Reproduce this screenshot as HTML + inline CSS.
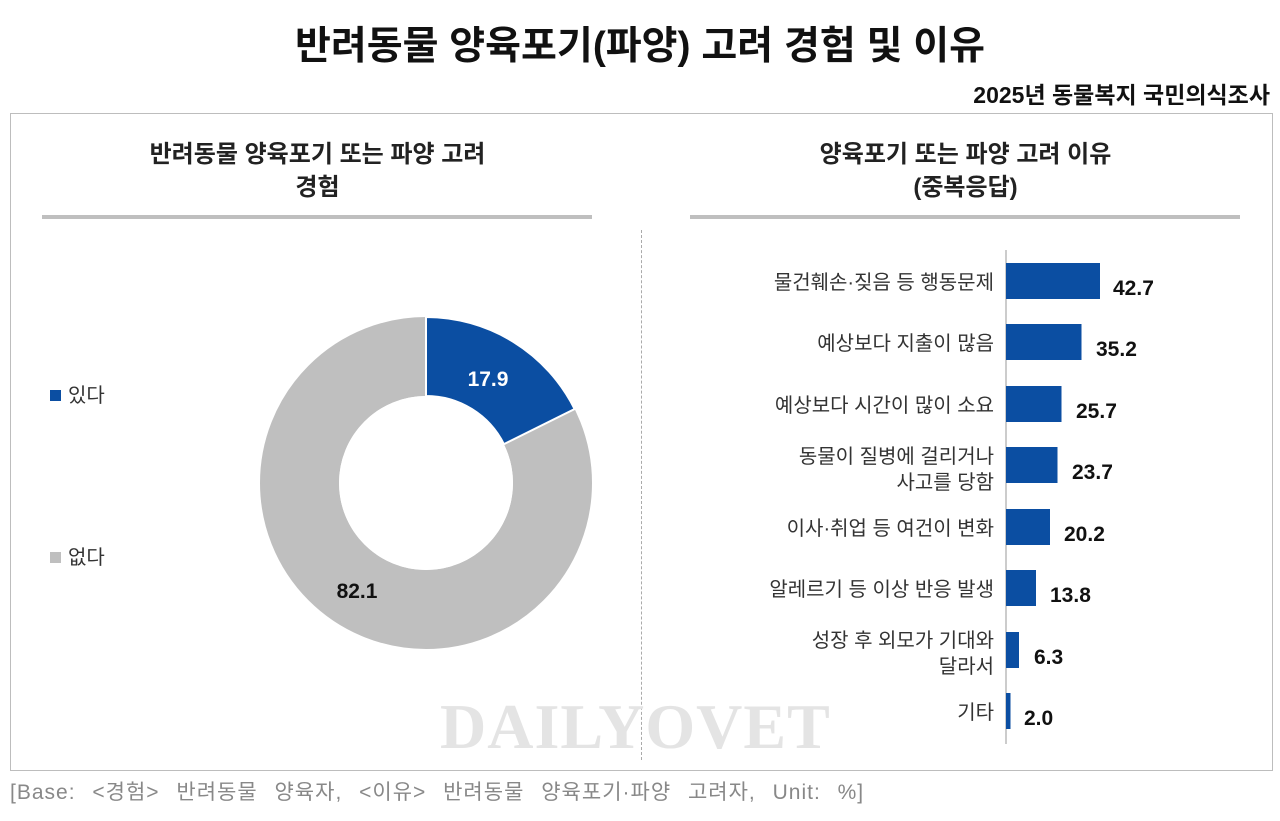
<!DOCTYPE html>
<html><head><meta charset="utf-8"><style>
body{margin:0;width:1280px;height:821px;background:#fff;position:relative;overflow:hidden;font-family:"Liberation Sans","Noto Sans CJK KR",sans-serif;color:#111}
.a{position:absolute;white-space:nowrap}
</style></head><body>
<div class="a" style="left:0;width:1280px;top:22px;text-align:center;font-size:39px;font-weight:bold;line-height:50px">반려동물 양육포기(파양) 고려 경험 및 이유</div>
<div class="a" style="right:10px;top:80px;font-size:23px;font-weight:bold;line-height:30px">2025년 동물복지 국민의식조사</div>
<div class="a" style="left:10px;top:113px;width:1261px;height:656px;border:1px solid #bdbdbd"></div>
<div class="a" style="left:40px;width:555px;top:138px;text-align:center;font-size:24px;font-weight:bold;line-height:33px;color:#222">반려동물 양육포기 또는 파양 고려<br>경험</div>
<div class="a" style="left:42px;width:550px;top:215px;height:4px;background:#bfbfbf"></div>
<div class="a" style="left:688px;width:555px;top:138px;text-align:center;font-size:24px;font-weight:bold;line-height:33px;color:#222">양육포기 또는 파양 고려 이유<br>(중복응답)</div>
<div class="a" style="left:690px;width:550px;top:215px;height:4px;background:#bfbfbf"></div>
<div class="a" style="left:641px;top:230px;height:530px;border-left:1px dashed #aaa"></div>
<div class="a" style="left:440px;top:690px;font-family:'Liberation Serif',serif;font-weight:bold;font-size:64px;color:#e4e4e4;letter-spacing:1px">DAILYOVET</div>
<svg class="a" style="left:0;top:0" width="1280" height="821">
<circle cx="426" cy="483" r="126.5" fill="none" stroke="#bfbfbf" stroke-width="79"/>
<path d="M426 317 A166 166 0 0 1 574.6 409 L503.9 444.2 A87 87 0 0 0 426 396 Z" fill="#0b4ea2" stroke="#fff" stroke-width="2"/>
<circle cx="426" cy="483" r="87" fill="#fff"/>
<text x="488" y="386" font-size="21" font-weight="bold" fill="#fff" text-anchor="middle">17.9</text>
<text x="357" y="598" font-size="21" font-weight="bold" fill="#111" text-anchor="middle">82.1</text>
<rect x="50" y="390" width="11" height="11" fill="#0b4ea2"/>
<text x="68" y="402" font-size="20" fill="#333">있다</text>
<rect x="50" y="552" width="11" height="11" fill="#bfbfbf"/>
<text x="68" y="564" font-size="20" fill="#333">없다</text>
<line x1="1006" y1="250" x2="1006" y2="744" stroke="#999" stroke-width="1"/>
<g fill="#0b4ea2">
<rect x="1006" y="263" width="94" height="36"/>
<rect x="1006" y="324" width="75.5" height="36"/>
<rect x="1006" y="386" width="55.5" height="36"/>
<rect x="1006" y="447" width="51.5" height="36"/>
<rect x="1006" y="509" width="44" height="36"/>
<rect x="1006" y="570" width="30" height="36"/>
<rect x="1006" y="632" width="13" height="36"/>
<rect x="1006" y="693" width="4.5" height="36"/>
</g>
<g font-size="21" font-weight="bold" fill="#111">
<text x="1113" y="295">42.7</text>
<text x="1096" y="356">35.2</text>
<text x="1076" y="418">25.7</text>
<text x="1072" y="479">23.7</text>
<text x="1064" y="541">20.2</text>
<text x="1050" y="602">13.8</text>
<text x="1034" y="664">6.3</text>
<text x="1024" y="725">2.0</text>
</g>
<g font-size="20" fill="#333" text-anchor="end">
<text x="994" y="289">물건훼손·짖음 등 행동문제</text>
<text x="994" y="350">예상보다 지출이 많음</text>
<text x="994" y="412">예상보다 시간이 많이 소요</text>
<text x="994" y="463">동물이 질병에 걸리거나</text>
<text x="994" y="489">사고를 당함</text>
<text x="994" y="535">이사·취업 등 여건이 변화</text>
<text x="994" y="596">알레르기 등 이상 반응 발생</text>
<text x="994" y="647">성장 후 외모가 기대와</text>
<text x="994" y="673">달라서</text>
<text x="994" y="719">기타</text>
</g>
</svg>
<div class="a" style="left:10px;top:780px;font-size:21px;color:#888;line-height:26px;word-spacing:10px;letter-spacing:1px">[Base: &lt;경험&gt; 반려동물 양육자, &lt;이유&gt; 반려동물 양육포기·파양 고려자, Unit: %]</div>
</body></html>
